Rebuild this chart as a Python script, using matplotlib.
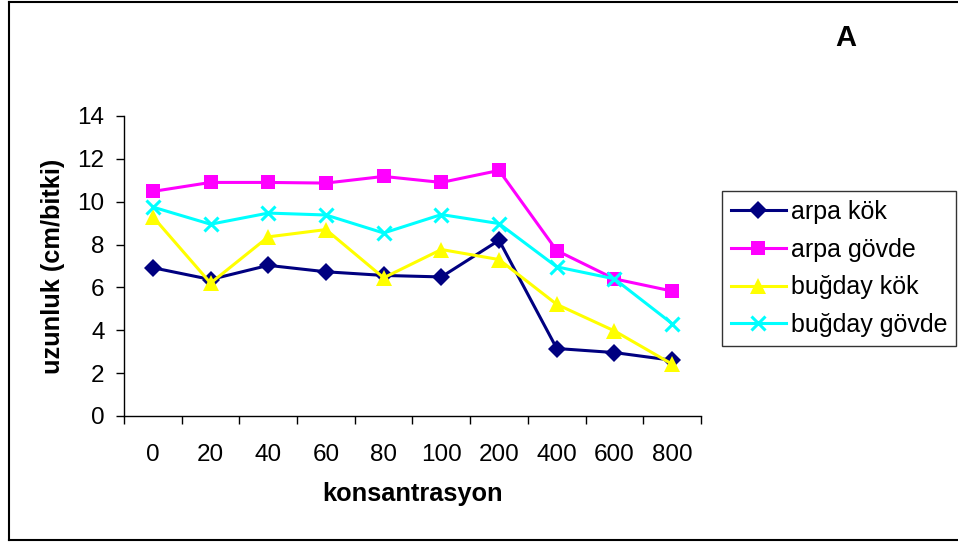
import matplotlib
matplotlib.use("Agg")
import matplotlib.pyplot as plt
from matplotlib.lines import Line2D

plt.rcParams['font.family'] = ['Liberation Sans', 'DejaVu Sans']

categories = ["0", "20", "40", "60", "80", "100", "200", "400", "600", "800"]
arpa_kok = [6.92, 6.37, 7.03, 6.73, 6.56, 6.49, 8.20, 3.15, 2.96, 2.60]
arpa_govde = [10.48, 10.90, 10.90, 10.87, 11.18, 10.90, 11.46, 7.72, 6.40, 5.83]
bugday_kok = [9.30, 6.20, 8.36, 8.70, 6.45, 7.77, 7.30, 5.21, 3.97, 2.42]
bugday_govde = [9.75, 8.95, 9.47, 9.38, 8.54, 9.40, 8.98, 6.96, 6.40, 4.31]
y_ticks = [0, 2, 4, 6, 8, 10, 12, 14]

W, H = 958, 543
fig = plt.figure(figsize=(W / 100, H / 100), dpi=100)

# chart area border (open on the right)
border_kw = dict(color="black", lw=1.5, transform=fig.transFigure, clip_on=False)
xl, yt, yb = 8.5 / W, 1 - 1.5 / H, 1 - 540 / H
fig.add_artist(Line2D([xl, 1.0], [yt, yt], **border_kw))
fig.add_artist(Line2D([xl, 1.0], [yb, yb], **border_kw))
fig.add_artist(Line2D([xl, xl], [yb, yt], **border_kw))

ax = fig.add_axes([124 / W, 1 - 416 / H, (701 - 124) / W, (416 - 116) / H])

x = list(range(len(categories)))
series = [
    ("arpa kök", arpa_kok, "#000080", "D", 9.5),
    ("arpa gövde", arpa_govde, "#FF00FF", "s", 10.5),
    ("buğday kök", bugday_kok, "#FFFF00", "^", 11.5),
    ("buğday gövde", bugday_govde, "#00FFFF", "x", 10.5),
]
for label, vals, color, marker, ms in series:
    mkw = dict(markeredgewidth=2.2) if marker == "x" else dict(markeredgewidth=0)
    ax.plot(x, vals, color=color, lw=2.2, marker=marker, markersize=ms,
            markerfacecolor=color, markeredgecolor=color, label=label,
            clip_on=False, **mkw)

ax.set_xlim(-0.5, len(categories) - 0.5)
ax.set_ylim(0, 14)
ax.set_yticks(y_ticks)
ax.set_yticklabels([str(v) for v in y_ticks], fontsize=17.5)

# category boundaries as major ticks, labels centred between them
ax.set_xticks([i - 0.5 for i in range(len(categories) + 1)])
ax.set_xticklabels([])
ax.set_xticks(x, minor=True)
ax.set_xticklabels(categories, minor=True, fontsize=17.5)
ax.tick_params(axis="x", which="major", direction="out", length=6, width=1)
ax.tick_params(axis="x", which="minor", length=0, pad=20)
ax.tick_params(axis="y", direction="out", length=6, width=1, pad=8)

for side in ("top", "right"):
    ax.spines[side].set_visible(False)
for side in ("left", "bottom"):
    ax.spines[side].set_linewidth(1)

ax.set_xlabel("konsantrasyon", fontsize=18.3, fontweight="bold", labelpad=12)
ax.set_ylabel("uzunluk (cm/bitki)", fontsize=18.3, fontweight="bold", labelpad=9)

leg = ax.legend(loc="upper left", bbox_to_anchor=(722 / W, 1 - 191 / H),
                bbox_transform=fig.transFigure, borderaxespad=0,
                fontsize=18, frameon=True, fancybox=False, shadow=False,
                handlelength=2.2, handletextpad=0.2, labelspacing=0.55,
                borderpad=0.35)
leg.get_frame().set_edgecolor("black")
leg.get_frame().set_linewidth(1)

fig.text(846 / W, 1 - 38 / H, "A", fontsize=21, fontweight="bold",
         ha="center", va="center")

fig.savefig("out.png", dpi=100)
